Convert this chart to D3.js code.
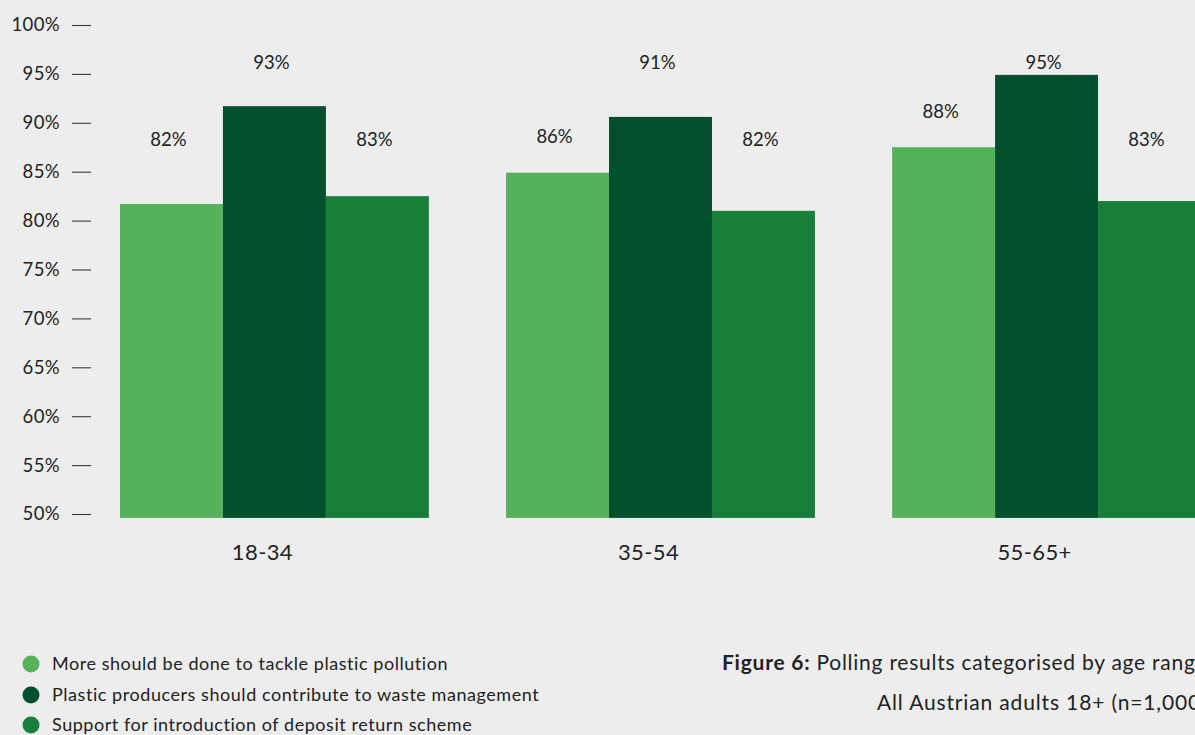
<!DOCTYPE html>
<html>
<head>
<meta charset="utf-8">
<script src="https://cdn.jsdelivr.net/npm/d3@7"></script>
<style>
  html, body { margin: 0; padding: 0; background: #ededed; }
  svg { display: block; font-family: Lato, "Noto Sans", sans-serif; }
</style>
</head>
<body>
<svg id="chart" width="1195" height="735"></svg>
<script>
// ---- data ----
const categories = ["18-34", "35-54", "55-65+"];
const seriesNames = [
  "More should be done to tackle plastic pollution",
  "Plastic producers should contribute to waste management",
  "Support for introduction of deposit return scheme"
];
// bar heights as drawn in the reference (percent)
const tacklePollution = [81.7, 84.9, 87.5];
const producersContribute = [91.7, 90.6, 94.9];
const depositReturn = [82.5, 81.0, 82.0];
// printed value labels
const tackleLabels = ["82%", "86%", "88%"];
const producersLabels = ["93%", "91%", "95%"];
const depositLabels = ["83%", "82%", "83%"];
const yTicks = [50, 55, 60, 65, 70, 75, 80, 85, 90, 95, 100];
const captionBold = "Figure 6:";
const captionText = " Polling results categorised by age range";
const captionSub = "All Austrian adults 18+ (n=1,000)";

const colors = ["#55b15a", "#044f2d", "#177f39"];

const series = [
  { values: tacklePollution, labels: tackleLabels },
  { values: producersContribute, labels: producersLabels },
  { values: depositReturn, labels: depositLabels }
];

const svg = d3.select("#chart");

const y = d3.scaleLinear().domain([50, 100]).range([514, 25]);
const baseValue = 49.6;

const x0 = d3.scaleBand().domain(categories).range([120, 1201]).paddingInner(0.2).paddingOuter(0);
const x1 = d3.scaleBand().domain(d3.range(series.length)).range([0, x0.bandwidth()]).padding(0);

// y axis
const yAxis = d3.axisLeft(y).tickValues(yTicks).tickFormat(d => d + "%").tickSize(19).tickPadding(12);
const yg = svg.append("g").attr("transform", "translate(91,0)").call(yAxis);
yg.select(".domain").remove();
yg.selectAll(".tick line").attr("stroke", "#3a3a3a").attr("stroke-width", 1.1);
yg.selectAll(".tick text").attr("font-size", 18.5).attr("fill", "#222")
  .attr("font-family", "Lato, sans-serif").attr("letter-spacing", 0.4);

// bars
const groups = svg.append("g").selectAll("g")
  .data(categories)
  .join("g")
  .attr("transform", d => `translate(${x0(d)},0)`);

groups.selectAll("rect")
  .data((c, ci) => series.map((s, si) => ({ si, v: s.values[ci] })))
  .join("rect")
  .attr("x", d => x1(d.si))
  .attr("width", x1.bandwidth())
  .attr("y", d => y(d.v))
  .attr("height", d => y(baseValue) - y(d.v))
  .attr("fill", d => colors[d.si]);

// value labels
groups.selectAll("text.val")
  .data((c, ci) => series.map((s, si) => ({ si, v: s.values[ci], label: s.labels[ci] })))
  .join("text")
  .attr("class", "val")
  .attr("x", d => x1(d.si) + x1.bandwidth() / 2 - 3)
  .attr("y", d => d.si === 1 ? y(96.2) : Math.min(y(88.3), y(d.v) - 36))
  .attr("dy", "0.35em")
  .attr("text-anchor", "middle")
  .attr("font-size", 18.5)
  .attr("fill", "#222")
  .text(d => d.label);

// category labels
svg.append("g").selectAll("text")
  .data(categories)
  .join("text")
  .attr("x", d => x0(d) + x0.bandwidth() / 2 - 12)
  .attr("y", 552)
  .attr("dy", "0.35em")
  .attr("text-anchor", "middle")
  .attr("font-size", 22)
  .attr("letter-spacing", 0.4)
  .attr("fill", "#222")
  .text(d => d);

// legend
const legend = svg.append("g").selectAll("g")
  .data(seriesNames)
  .join("g")
  .attr("transform", (d, i) => `translate(31,${[664, 695, 725][i]})`);
legend.append("circle").attr("r", 8.5).attr("fill", (d, i) => colors[i]);
legend.append("text")
  .attr("x", 21).attr("dy", "0.35em")
  .attr("font-size", 18).attr("letter-spacing", 0.55).attr("fill", "#222")
  .text(d => d);

// caption
const cap = svg.append("text").attr("x", 722).attr("y", 663).attr("dy", "0.35em")
  .attr("font-size", 21).attr("letter-spacing", 0.75).attr("fill", "#222");
cap.append("tspan").attr("font-weight", "bold").text(captionBold);
cap.append("tspan").text(captionText);
svg.append("text").attr("x", 877).attr("y", 703).attr("dy", "0.35em")
  .attr("font-size", 21).attr("letter-spacing", 0.85).attr("fill", "#222").text(captionSub);
</script>
</body>
</html>
